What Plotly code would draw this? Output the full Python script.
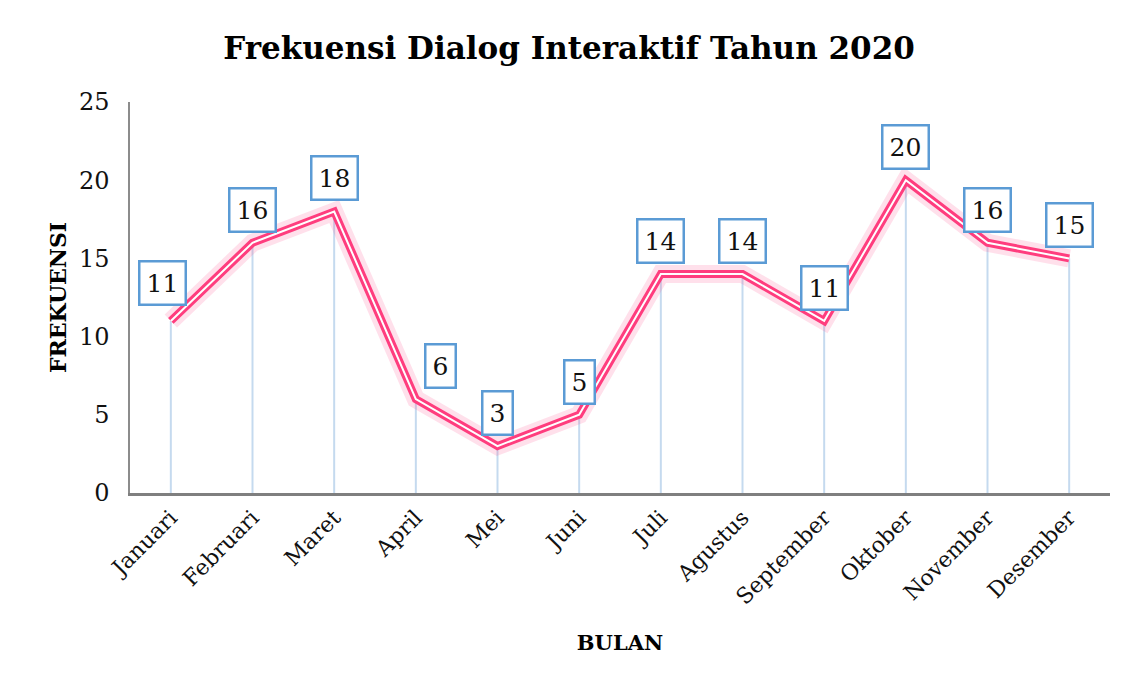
import plotly.graph_objects as go

months = ["Januari", "Februari", "Maret", "April", "Mei", "Juni", "Juli",
          "Agustus", "September", "Oktober", "November", "Desember"]
freq = [11, 16, 18, 6, 3, 5, 14, 14, 11, 20, 16, 15]
y_ticks = [0, 5, 10, 15, 20, 25]

FONT = "DejaVu Serif"

fig = go.Figure()

# drop lines
dx, dy = [], []
for m, v in zip(months, freq):
    dx += [m, m, None]
    dy += [0, v, None]
fig.add_trace(go.Scatter(x=dx, y=dy, mode="lines",
                         line=dict(color="#c5daef", width=2),
                         hoverinfo="skip", showlegend=False))

# glow
fig.add_trace(go.Scatter(x=months, y=freq, mode="lines",
                         line=dict(color="rgba(255,60,130,0.16)", width=18),
                         hoverinfo="skip", showlegend=False))
# pink double line
fig.add_trace(go.Scatter(x=months, y=freq, mode="lines",
                         line=dict(color="#ff3d7e", width=8),
                         showlegend=False))
fig.add_trace(go.Scatter(x=months, y=freq, mode="lines",
                         line=dict(color="white", width=2),
                         hoverinfo="skip", showlegend=False))

xshift = {"Januari": -8, "April": 25}
yshift = {"Januari": 38}
for m, v in zip(months, freq):
    fig.add_annotation(x=m, y=v, text=str(v), showarrow=False,
                       yshift=yshift.get(m, 33), xshift=xshift.get(m, 0),
                       font=dict(family=FONT, size=25, color="#111"),
                       bgcolor="white", bordercolor="#5b9bd5",
                       borderwidth=2.5, borderpad=6)

fig.update_layout(
    width=1122, height=675,
    paper_bgcolor="white", plot_bgcolor="white",
    margin=dict(l=122, r=20, t=94, b=190, autoexpand=False),
    title=dict(text="<b>Frekuensi Dialog Interaktif Tahun 2020</b>",
               x=0.5, xanchor="center", y=1 - 40 / 675, yanchor="middle",
               font=dict(family=FONT, size=31, color="#000")),
    xaxis=dict(type="category", categoryorder="array", categoryarray=months,
               range=[-0.5, 11.5],
               tickangle=-45, showgrid=False, showline=True,
               linecolor="#7f7f7f", linewidth=3, ticks="",
               tickfont=dict(family=FONT, size=22, color="#111"),
               title=dict(text="<b>BULAN</b>", standoff=27,
                          font=dict(family=FONT, size=21, color="#000"))),
    yaxis=dict(range=[0, 25], tickvals=y_ticks, showgrid=False,
               zeroline=False, showline=True, linecolor="#8c8c8c",
               linewidth=1.5, ticks="", ticklabelstandoff=14,
               tickfont=dict(family=FONT, size=24, color="#111"),
               title=dict(text="<b>FREKUENSI</b>", standoff=6,
                          font=dict(family=FONT, size=22, color="#000"))),
)

fig.write_html("out.html")
